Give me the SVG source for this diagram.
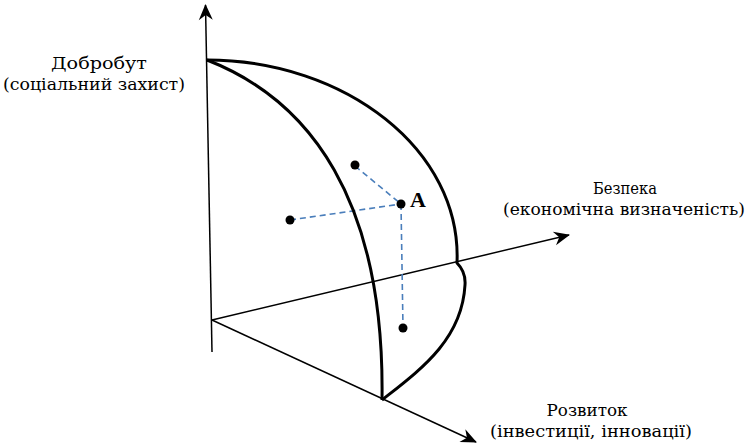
<svg xmlns="http://www.w3.org/2000/svg" width="748" height="448" viewBox="0 0 748 448">
<style>
.axis{fill:none;stroke:#000;stroke-width:1.5}
.curve{fill:none;stroke:#000;stroke-width:3;stroke-linejoin:round}
.dash{fill:none;stroke:#4a7ebb;stroke-width:1.6;stroke-dasharray:6,4}
.dot{fill:#000}
.lbl{font-family:"DejaVu Serif","Liberation Serif",serif;font-size:17px;fill:#000;text-anchor:middle}
.a{font-family:"Liberation Serif","Times New Roman",serif;font-size:22px;font-weight:bold;fill:#000}
</style>
<defs>
<marker id="arr" viewBox="-16 -8 18 16" markerWidth="18" markerHeight="16" refX="0" refY="0" orient="auto" markerUnits="userSpaceOnUse">
<path d="M1,0 L-15,-7 L-10,0 L-15,7 Z" fill="#000"/>
</marker>
</defs>
<g id="connectors">
<line class="axis" x1="212" y1="352" x2="205.5" y2="5" marker-end="url(#arr)"/>
<line class="axis" x1="212" y1="320" x2="569" y2="235" marker-end="url(#arr)"/>
<line class="axis" x1="212" y1="320" x2="476" y2="442" marker-end="url(#arr)"/>
<path class="dash" d="M355,166 L401,204"/>
<path class="dash" d="M290,220 L401,204"/>
<path class="dash" d="M401,204 L403,328"/>
</g>
<g id="surface">
<path class="curve" d="M207,60 C310,100 385,200 382,400"/>
<path class="curve" d="M207,60 C345,60 462,150 457,263 Q466,272 465,285 C462,340 420,370 382,400"/>
</g>
<g id="points">
<circle class="dot" cx="355" cy="165" r="4.5"/>
<circle class="dot" cx="401" cy="204" r="4.5"/>
<circle class="dot" cx="290" cy="220" r="4.5"/>
<circle class="dot" cx="403" cy="328" r="4.5"/>
<text class="a" x="410" y="207">A</text>
</g>
<g id="label-dobrobut">
<text class="lbl" x="99" y="69" textLength="96" lengthAdjust="spacingAndGlyphs">Добробут</text>
<text class="lbl" x="94" y="90" textLength="182" lengthAdjust="spacingAndGlyphs">(соціальний захист)</text>
</g>
<g id="label-bezpeka">
<text class="lbl" x="625" y="194" textLength="64" lengthAdjust="spacingAndGlyphs">Безпека</text>
<text class="lbl" x="624" y="215" textLength="242" lengthAdjust="spacingAndGlyphs">(економічна визначеність)</text>
</g>
<g id="label-rozvytok">
<text class="lbl" x="587" y="416" textLength="81" lengthAdjust="spacingAndGlyphs">Розвиток</text>
<text class="lbl" x="591" y="437" textLength="202" lengthAdjust="spacingAndGlyphs">(інвестиції, інновації)</text>
</g>
</svg>
